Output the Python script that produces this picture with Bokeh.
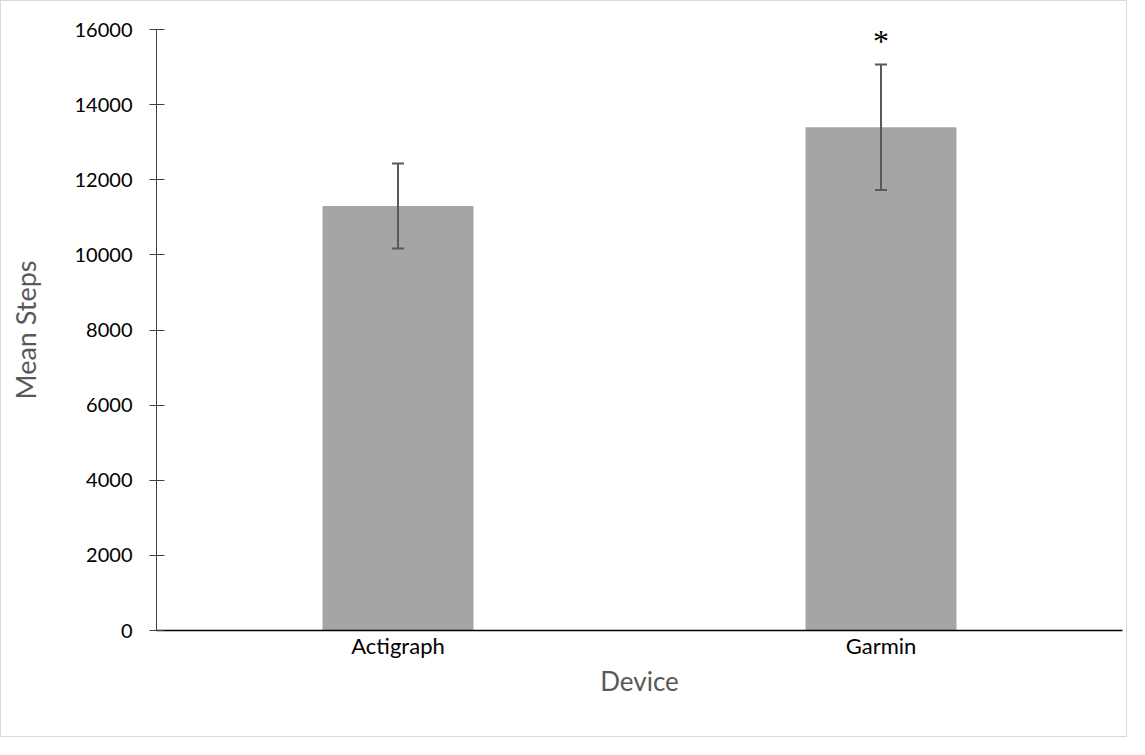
from bokeh.plotting import figure
from bokeh.models import ColumnDataSource, FactorRange, Range1d, Whisker, TeeHead, FixedTicker
from bokeh.embed import file_html
from bokeh.resources import INLINE
from bokeh.core.properties import value

# ---- data ----
devices = ["Actigraph", "Garmin"]
mean_steps = [11300, 13400]
error = [1130, 1670]
significance = ["", "*"]
y_ticks = [0, 2000, 4000, 6000, 8000, 10000, 12000, 14000, 16000]

upper = [m + e for m, e in zip(mean_steps, error)]
lower = [m - e for m, e in zip(mean_steps, error)]

src = ColumnDataSource(dict(device=devices, mean=mean_steps, upper=upper,
                            lower=lower, sig=significance))

p = figure(x_range=FactorRange(*devices, range_padding=0),
           y_range=Range1d(0, 16000),
           width=1127, height=737,
           output_backend="svg", toolbar_location=None,
           min_border_left=155, min_border_right=6,
           min_border_top=28, min_border_bottom=108,
           styles={"border": "1px solid #d9d9d9"})

p.vbar(x="device", top="mean", width=0.3125, source=src,
       fill_color="#a5a5a5", line_color=None)

wh = Whisker(base="device", upper="upper", lower="lower", source=src,
             dimension="height", line_color="#595959", line_width=2,
             level="overlay",
             upper_head=TeeHead(size=12, line_color="#595959", line_width=2),
             lower_head=TeeHead(size=12, line_color="#595959", line_width=2))
p.add_layout(wh)

p.text(x="device", y="upper", text="sig", source=src,
       text_font=value("Liberation Serif"), text_font_size="32px",
       text_color="#000000", text_align="center",
       text_baseline="alphabetic", y_offset=-23)

p.xgrid.visible = False
p.ygrid.visible = False
p.outline_line_color = None
p.background_fill_color = "white"
p.border_fill_color = "white"

# y axis
p.yaxis.ticker = FixedTicker(ticks=y_ticks)
p.yaxis.axis_line_color = "#404040"
p.yaxis.axis_line_width = 1
p.yaxis.major_tick_line_color = "#404040"
p.yaxis.major_tick_in = 8
p.yaxis.major_tick_out = 7
p.yaxis.minor_tick_line_color = None
p.yaxis.major_label_text_font = "Lato"
p.yaxis.major_label_text_font_size = "20px"
p.yaxis.major_label_text_color = "#000000"
p.yaxis.major_label_standoff = 17
p.yaxis.axis_label = "Mean Steps"
p.yaxis.axis_label_text_font = "Lato"
p.yaxis.axis_label_text_font_size = "27px"
p.yaxis.axis_label_text_font_style = "normal"
p.yaxis.axis_label_text_color = "#595959"
p.yaxis.axis_label_standoff = 30

# x axis
p.xaxis.axis_line_color = "#000000"
p.xaxis.axis_line_width = 1.5
p.xaxis.major_tick_line_color = None
p.xaxis.major_tick_in = 0
p.xaxis.major_tick_out = 0
p.xaxis.minor_tick_line_color = None
p.xaxis.minor_tick_out = 0
p.xaxis.major_label_text_font = "Lato"
p.xaxis.major_label_text_font_size = "22px"
p.xaxis.major_label_text_color = "#000000"
p.xaxis.major_label_standoff = 1
p.xaxis.axis_label = "Device"
p.xaxis.axis_label_text_font = "Lato"
p.xaxis.axis_label_text_font_size = "26px"
p.xaxis.axis_label_text_font_style = "normal"
p.xaxis.axis_label_text_color = "#595959"
p.xaxis.axis_label_standoff = 3

open("out.html", "w").write(file_html(p, INLINE))
